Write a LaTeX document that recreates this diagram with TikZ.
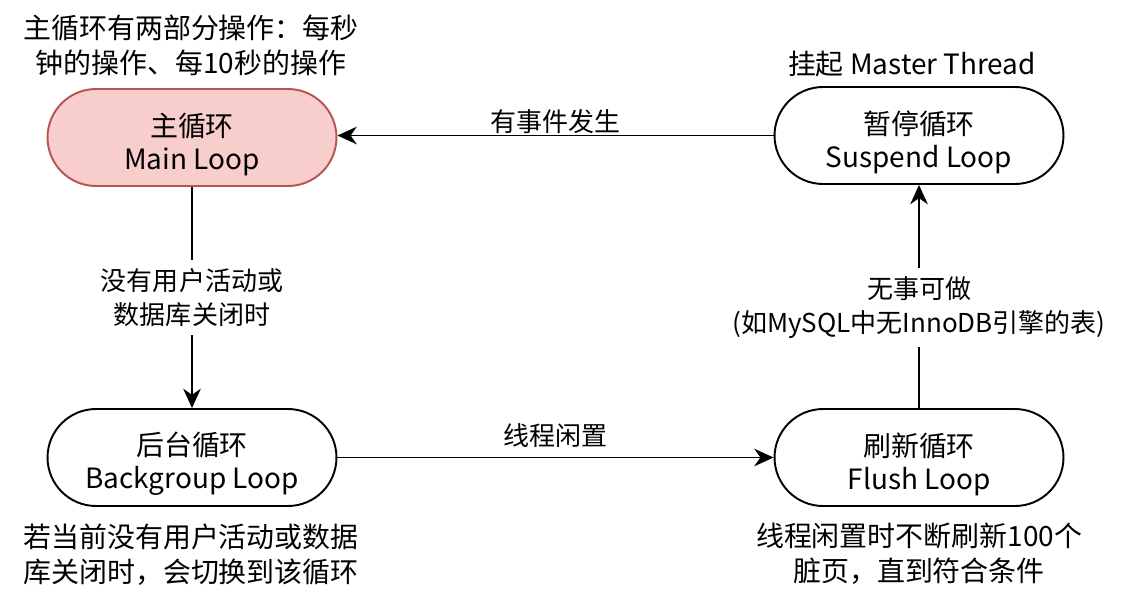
\documentclass[tikz,border=0pt]{standalone}
\usepackage{fontspec}
\setmainfont{Noto Sans CJK SC}
\usetikzlibrary{arrows.meta}
\definecolor{mainfill}{HTML}{F8CECC}
\definecolor{maindraw}{HTML}{B85450}
\begin{document}
\begin{tikzpicture}[x=0.02cm,y=-0.02cm,
  loopbox/.style={draw=black,line width=1.1pt,fill=white,minimum width=5.78cm,minimum height=1.94cm,rounded corners=0.97cm,inner sep=0pt},
  boxtext/.style={align=center,inner sep=0pt,yshift=-0.13cm,font=\fontsize{15.9}{18.8}\selectfont},
  note/.style={align=center,inner sep=0pt,font=\fontsize{15.9}{20}\selectfont},
  elabel/.style={align=center,font=\fontsize{14.8}{19}\selectfont},
  conn/.style={line width=1.1pt,-{Stealth[length=11pt,width=10pt,inset=3.5pt]}}]
\useasboundingbox (0,0) rectangle (1128,602);
\node[loopbox,fill=mainfill,draw=maindraw,label={[boxtext]center:主循环\\Main Loop}] (main) at (192,137.5) {};
\node[loopbox,label={[boxtext]center:暂停循环\\Suspend Loop}] (susp) at (919,135.5) {};
\node[loopbox,label={[boxtext]center:后台循环\\Backgroup Loop}] (back) at (192,457.5) {};
\node[loopbox,label={[boxtext]center:刷新循环\\Flush Loop}] (flush) at (919,457.5) {};

\node[note] (n1) at (191,45) {主循环有两部分操作：每秒\\钟的操作、每10秒的操作};
\node[note] (n2) at (912,64) {挂起 Master Thread};
\node[note] (n3) at (191,554.5) {若当前没有用户活动或数据\\库关闭时，会切换到该循环};
\node[note] (n4) at (919,554) {线程闲置时不断刷新100个\\脏页，直到符合条件};

\draw[conn] (susp.west) -- node[elabel,above=2pt,yshift=-0.16cm] {有事件发生} (main.east|-susp.west);
\draw[conn] (back.east) -- node[elabel,above=2pt] {线程闲置} (flush.west);
\draw[conn] (main.south) -- node[elabel,fill=white,inner sep=5pt] {没有用户活动或\\数据库关闭时} (back.north);
\draw[conn] (flush.north) -- node[elabel,fill=white,inner sep=5pt,pos=0.45] {无事可做\\(如MySQL中无InnoDB引擎的表)} (susp.south);
\end{tikzpicture}
\end{document}
